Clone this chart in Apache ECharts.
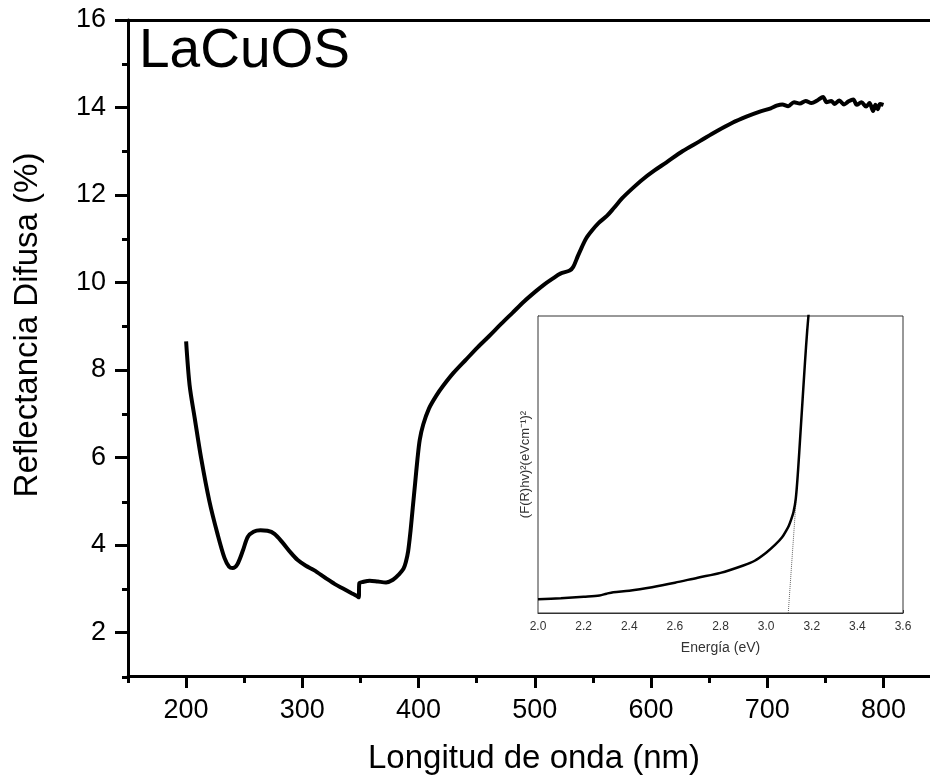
<!DOCTYPE html>
<html>
<head>
<meta charset="utf-8">
<script src="https://cdn.jsdelivr.net/npm/echarts@6/dist/echarts.min.js"></script>
<style>
html,body{margin:0;padding:0;background:#fff;}
#chart{width:930px;height:780px;}
</style>
</head>
<body>
<div id="chart"></div>
<script>
// Main spectrum: wavelength (nm) and diffuse reflectance (%)
const wavelength = [200,203,207.5,213,220,227,233,237,240,244,249,253,258,264,270,276,283,290,296,303,310,320,328,335,342,347,348.5,349,352,358,365,372,378,383,387,389,391,393,395,397,399,401,404,409,415,421,430,441,451,461,471,481,491,501,508,515,522,530,533,537,540,544,549,555,562,568,575,584,593,603,613,627,642,656,670,682,693,703,708,713,718,723,728,733,738,743,748,751,755,758,762,766,770,774,777,781,785,788,791,793,795,797,800];
const reflectance = [8.65,7.65,6.88,5.97,5.0,4.25,3.7,3.5,3.47,3.55,3.88,4.18,4.3,4.33,4.32,4.25,4.05,3.82,3.65,3.52,3.42,3.24,3.1,3.0,2.9,2.83,2.8,3.12,3.15,3.18,3.16,3.14,3.2,3.32,3.45,3.6,3.85,4.3,4.85,5.4,5.95,6.4,6.75,7.12,7.4,7.63,7.93,8.24,8.52,8.78,9.05,9.31,9.57,9.8,9.95,10.08,10.2,10.27,10.35,10.6,10.78,11.0,11.18,11.36,11.52,11.7,11.92,12.15,12.36,12.56,12.74,13.0,13.23,13.45,13.65,13.79,13.9,13.98,14.04,14.07,14.03,14.12,14.09,14.15,14.1,14.16,14.24,14.12,14.15,14.08,14.16,14.07,14.14,14.18,14.06,14.12,14.02,14.1,13.92,14.06,13.96,14.08,14.06];

// Inset: Tauc plot (arbitrary units)
const energy = [2.0,2.1,2.2,2.27,2.3,2.33,2.4,2.5,2.6,2.7,2.8,2.9,2.95,3.0,3.04,3.07,3.09,3.10,3.11,3.12,3.13,3.14,3.15,3.16,3.17,3.18,3.19];
const tauc = [4.6,5.0,5.5,5.9,6.5,7.0,7.5,8.7,10.2,11.9,13.5,16.0,17.6,20.3,23.0,25.5,28.0,29.5,31.5,34.0,38.5,48,60,72,84,95,104];
const tangentX = [3.097,3.135];
const tangentY = [0,42];

// Tick values
const xMajorTicks = [200,300,400,500,600,700,800];
const xMinorTicks = [150,250,350,450,550,650,750,850];
const yMajorTicks = [2,4,6,8,10,12,14,16];
const yMinorTicks = [1,3,5,7,9,11,13,15];

const FONT = 'Arial, "Liberation Sans", sans-serif';
const chart = echarts.init(document.getElementById('chart'), null, {renderer:'canvas'});

const zip = (a,b) => a.map((v,i)=>[v,b[i]]);

const option = {
  backgroundColor:'#fff',
  animation:false,
  grid:[
    {left:128, top:20, right:0, bottom:103, containLabel:false},
    {left:128, top:20, right:0, bottom:103, containLabel:false},
    {left:538, top:316, width:365, height:297, show:true, borderColor:'#333', borderWidth:1, backgroundColor:'#fff', z:10}
  ],
  xAxis:[
    {type:'value', gridIndex:0, position:'bottom', min:150, max:840,
     name:'Longitud de onda (nm)', nameLocation:'middle', nameGap:66,
     nameTextStyle:{fontFamily:FONT, fontSize:33, color:'#000', padding:[0,0,0,10]},
     axisLine:{show:true, lineStyle:{color:'#000', width:3}},
     axisTick:{show:true, inside:false, length:12, customValues:xMajorTicks, lineStyle:{color:'#000', width:3}},
     axisLabel:{show:true, customValues:xMajorTicks, margin:21, fontFamily:FONT, fontSize:27, color:'#000'},
     splitLine:{show:false}},
    {type:'value', gridIndex:0, position:'top', min:150, max:840,
     axisLine:{show:true, lineStyle:{color:'#000', width:3}},
     axisTick:{show:false}, axisLabel:{show:false}, splitLine:{show:false}},
    {type:'value', gridIndex:1, position:'bottom', min:150, max:840,
     axisLine:{show:false},
     axisTick:{show:true, inside:false, length:6, customValues:xMinorTicks, lineStyle:{color:'#000', width:3}},
     axisLabel:{show:false}, splitLine:{show:false}},
    {type:'value', gridIndex:2, min:2.0, max:3.6, interval:0.2,
     name:'Energía (eV)', nameLocation:'middle', nameGap:28,
     nameTextStyle:{fontFamily:FONT, fontSize:14, color:'#333'},
     axisLine:{show:true, lineStyle:{color:'#333', width:1}},
     axisTick:{show:true, inside:true, length:3, lineStyle:{color:'#333', width:1}},
     minorTick:{show:true, splitNumber:2, length:2, lineStyle:{color:'#333', width:1}},
     axisLabel:{show:true, margin:8, fontFamily:FONT, fontSize:12, color:'#333', formatter:v=>v.toFixed(1)},
     splitLine:{show:false}}
  ],
  yAxis:[
    {type:'value', gridIndex:0, position:'left', min:1, max:16,
     name:'Reflectancia Difusa (%)', nameLocation:'middle', nameGap:84,
     nameTextStyle:{fontFamily:FONT, fontSize:33, color:'#000', padding:[0,0,0,46]},
     axisLine:{show:true, lineStyle:{color:'#000', width:3}},
     axisTick:{show:true, inside:false, length:13, customValues:yMajorTicks, lineStyle:{color:'#000', width:3}},
     axisLabel:{show:true, customValues:yMajorTicks, margin:22, fontFamily:FONT, fontSize:27, color:'#000'},
     splitLine:{show:false}},
    {type:'value', gridIndex:1, position:'left', min:1, max:16,
     axisLine:{show:false},
     axisTick:{show:true, inside:false, length:6, customValues:yMinorTicks, lineStyle:{color:'#000', width:3}},
     axisLabel:{show:false}, splitLine:{show:false}},
    {type:'value', gridIndex:2, min:0, max:100,
     name:'(F(R)hv)²(eVcm⁻¹)²', nameLocation:'middle', nameGap:6,
     nameTextStyle:{fontFamily:FONT, fontSize:13, color:'#333'},
     axisLine:{show:true, lineStyle:{color:'#333', width:1}},
     axisTick:{show:false}, axisLabel:{show:false}, splitLine:{show:false}}
  ],
  graphic:[
    {type:'text', left:139, top:24, z:20,
     style:{text:'LaCuOS', fontFamily:FONT, fontSize:55, fill:'#000'}}
  ],
  series:[
    {type:'line', xAxisIndex:0, yAxisIndex:0, data:zip(wavelength, reflectance),
     showSymbol:false, symbol:'none', smooth:0.3, lineStyle:{color:'#000', width:4}, z:5},
    {type:'line', xAxisIndex:3, yAxisIndex:2, data:zip(energy, tauc),
     showSymbol:false, symbol:'none', smooth:0.3, clip:true, lineStyle:{color:'#000', width:2.5}, z:12},
    {type:'line', xAxisIndex:3, yAxisIndex:2, data:zip(tangentX, tangentY),
     showSymbol:false, symbol:'none', clip:true, lineStyle:{color:'#666', width:1, type:'dotted'}, z:11}
  ]
};
chart.setOption(option);
</script>
</body>
</html>
